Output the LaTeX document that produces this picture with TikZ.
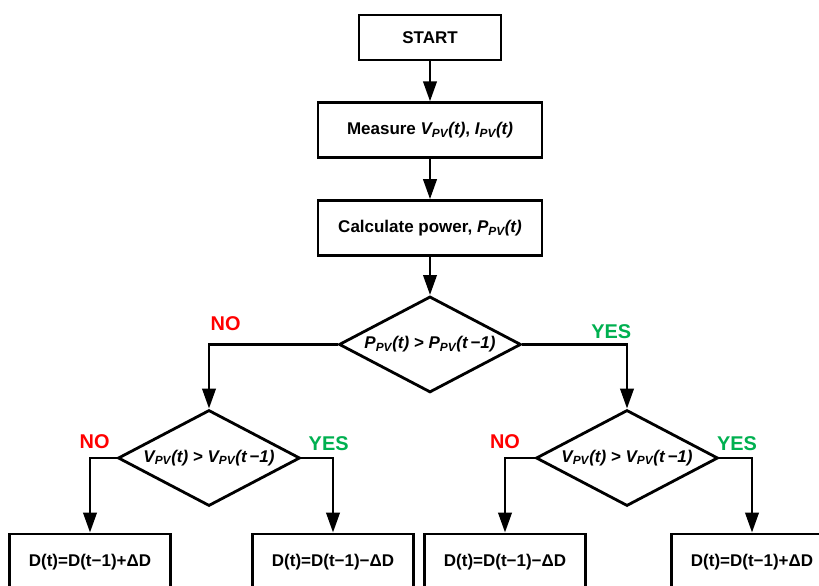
\documentclass[tikz,border=0pt]{standalone}
\usepackage{fontspec}
\setmainfont{Liberation Sans}
\usepackage{xcolor}
\usepackage{tikz}
\usetikzlibrary{positioning,arrows.meta,shapes.geometric}
\definecolor{noRed}{HTML}{FF0000}
\definecolor{yesGreen}{HTML}{00B050}
\newcommand{\pv}[2]{\textit{#1\textsubscript{PV}(#2)}}
\tikzset{
  stepbox/.style={rectangle, draw=black, line width=2.4pt, align=center,
              font=\fontsize{14.5}{17}\selectfont\bfseries,
              minimum width=6.72cm, minimum height=1.65cm},
  resbox/.style={stepbox, minimum width=4.83cm, minimum height=1.68cm},
  test/.style={diamond, draw=black, line width=2.4pt, align=center, aspect=1.9,
              font=\fontsize{14.5}{17}\selectfont\bfseries\itshape, inner sep=0pt,
              minimum width=5.46cm, minimum height=2.88cm},
  arr/.style={-{Triangle[length=6mm,width=4mm]}, line width=2.4pt, draw=black},
  ans/.style={font=\fontsize{17}{17}\selectfont\bfseries, inner sep=0pt, anchor=south},
}

\begin{document}
\begin{tikzpicture}
  \useasboundingbox (0,0) rectangle (24.57,-17.55);

  % main column
  \node[stepbox, minimum width=4.26cm, minimum height=1.35cm] (start) at (12.9,-1.125) {START};
  \node[stepbox, below=1.2cm of start] (meas) {Measure \pv{V}{t}, \pv{I}{t}};
  \node[stepbox, below=1.2cm of meas] (calc) {Calculate power, \pv{P}{t}};
  \node[test, below=1.14cm of calc] (dp) {\pv{P}{t} > \pv{P}{t\,−1}};

  \draw[arr] (start) -- (meas);
  \draw[arr] (meas) -- (calc);
  \draw[arr] (calc) -- (dp);

  % voltage tests
  \node[test] (dvl) at (6.27,-13.74) {\pv{V}{t} > \pv{V}{t\,−1}};
  \node[test] (dvr) at (18.81,-13.74) {\pv{V}{t} > \pv{V}{t\,−1}};

  \draw[arr] (dp.west) -| node[ans, text=noRed, xshift=0.5cm, yshift=0.38cm]{NO} (dvl.north);
  \draw[arr] (dp.east) -| node[ans, text=yesGreen, xshift=-0.47cm, yshift=0.12cm]{YES} (dvr.north);

  % duty cycle updates
  \node[resbox] (r1) at (2.7,-16.86) {D(t)=D(t−1)+ΔD};
  \node[resbox] (r2) at (9.99,-16.86) {D(t)=D(t−1)−ΔD};
  \node[resbox] (r3) at (15.15,-16.86) {D(t)=D(t−1)−ΔD};
  \node[resbox] (r4) at (22.56,-16.86) {D(t)=D(t−1)+ΔD};

  \draw[arr] (dvl.west) -| node[ans, text=noRed, xshift=0.14cm, yshift=0.24cm]{NO} (r1.north);
  \draw[arr] (dvl.east) -| node[ans, text=yesGreen, xshift=-0.13cm, yshift=0.18cm]{YES} (r2.north);
  \draw[arr] (dvr.west) -| node[ans, text=noRed, xshift=0cm, yshift=0.24cm]{NO} (r3.north);
  \draw[arr] (dvr.east) -| node[ans, text=yesGreen, xshift=-0.45cm, yshift=0.18cm]{YES} (r4.north);
\end{tikzpicture}
\end{document}
